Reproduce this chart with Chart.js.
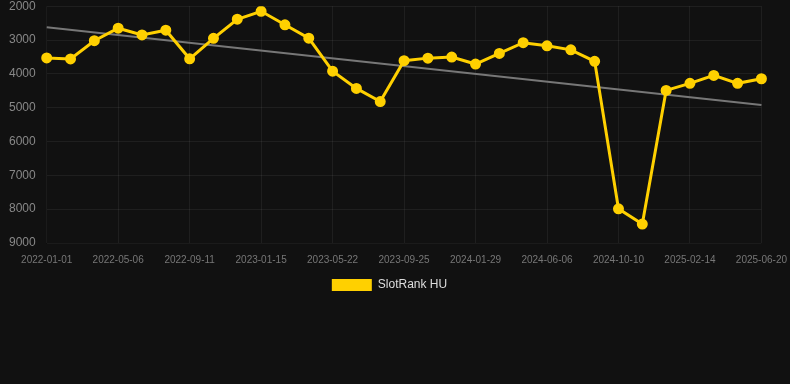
<!DOCTYPE html>
<html>
<head>
<meta charset="utf-8">
<script src="https://cdn.jsdelivr.net/npm/chart.js@4"></script>
<style>
    html, body { margin: 0; padding: 0; background: #111111; }
    #wrap { position: relative; width: 790px; height: 305px; margin-top: -4px; }
</style>
</head>
<body>
<div id="wrap"><canvas id="rank-chart"></canvas></div>
<script>
/* SlotRank HU — rank history with trend line */

var dates = [
    '2022-01-01', '2022-02-12', '2022-03-26', '2022-05-06', '2022-06-17', '2022-07-30',
    '2022-09-11', '2022-10-23', '2022-12-04', '2023-01-15', '2023-02-26', '2023-04-09',
    '2023-05-22', '2023-07-03', '2023-08-14', '2023-09-25', '2023-11-06', '2023-12-18',
    '2024-01-29', '2024-03-11', '2024-04-24', '2024-06-06', '2024-07-18', '2024-08-29',
    '2024-10-10', '2024-11-21', '2025-01-03', '2025-02-14', '2025-03-28', '2025-05-09',
    '2025-06-20'
];

var rankValues = [
    3530, 3560, 3020, 2650, 2850, 2710, 3555, 2950, 2385, 2150, 2550,
    2945, 3920, 4430, 4820, 3610, 3535, 3505, 3710, 3395, 3080, 3170,
    3290, 3630, 7990, 8440, 4490, 4280, 4045, 4280, 4145
];

// trend line: only the two ends, gap spanned
var trendStart = 2620;
var trendEnd = 4920;

var yTicks = [2000, 3000, 4000, 5000, 6000, 7000, 8000, 9000];

(function () {
    'use strict';

    var trendValues = dates.map(function (d, i) {
        if (i === 0) return trendStart;
        if (i === dates.length - 1) return trendEnd;
        return null;
    });

    var gold = '#ffd000';
    var gridColor = 'rgba(255,255,255,0.06)';
    var fontFamily = 'Arial, "Liberation Sans", sans-serif';

    var ctx = document.getElementById('rank-chart').getContext('2d');
    new Chart(ctx, {
        type: 'line',
        data: {
            labels: dates,
            datasets: [
                {
                    label: 'SlotRank HU',
                    data: rankValues,
                    borderColor: gold,
                    backgroundColor: gold,
                    pointBackgroundColor: gold,
                    pointBorderColor: gold,
                    borderWidth: 3,
                    pointRadius: 4,
                    tension: 0,
                    order: 1
                },
                {
                    label: 'trend',
                    data: trendValues,
                    borderColor: '#777777',
                    borderWidth: 2,
                    pointRadius: 0,
                    spanGaps: true,
                    order: 2
                }
            ]
        },
        options: {
            responsive: true,
            maintainAspectRatio: false,
            animation: false,
            layout: { padding: { left: 6, right: 17, top: 0, bottom: 0 } },
            plugins: {
                legend: {
                    position: 'bottom',
                    labels: {
                        color: '#dddddd',
                        font: { family: fontFamily, size: 12 },
                        boxWidth: 40,
                        boxHeight: 12,
                        filter: function (item) {
                            item.lineWidth = 0;
                            return item.text === 'SlotRank HU';
                        }
                    }
                },
                tooltip: { enabled: false }
            },
            scales: {
                x: {
                    ticks: {
                        color: '#777777',
                        font: { family: fontFamily, size: 10 },
                        maxRotation: 0,
                        autoSkip: true,
                        maxTicksLimit: 11
                    },
                    grid: { color: gridColor, tickColor: 'transparent' }
                },
                y: {
                    reverse: true,
                    min: yTicks[0],
                    max: yTicks[yTicks.length - 1],
                    afterBuildTicks: function (axis) {
                        axis.ticks = yTicks.map(function (v) { return { value: v }; });
                    },
                    ticks: {
                        color: '#888888',
                        font: { family: fontFamily, size: 12 },
                        callback: function (v) { return String(v); }
                    },
                    grid: { color: gridColor, tickColor: 'transparent' }
                }
            }
        }
    });
})();
</script>
</body>
</html>
